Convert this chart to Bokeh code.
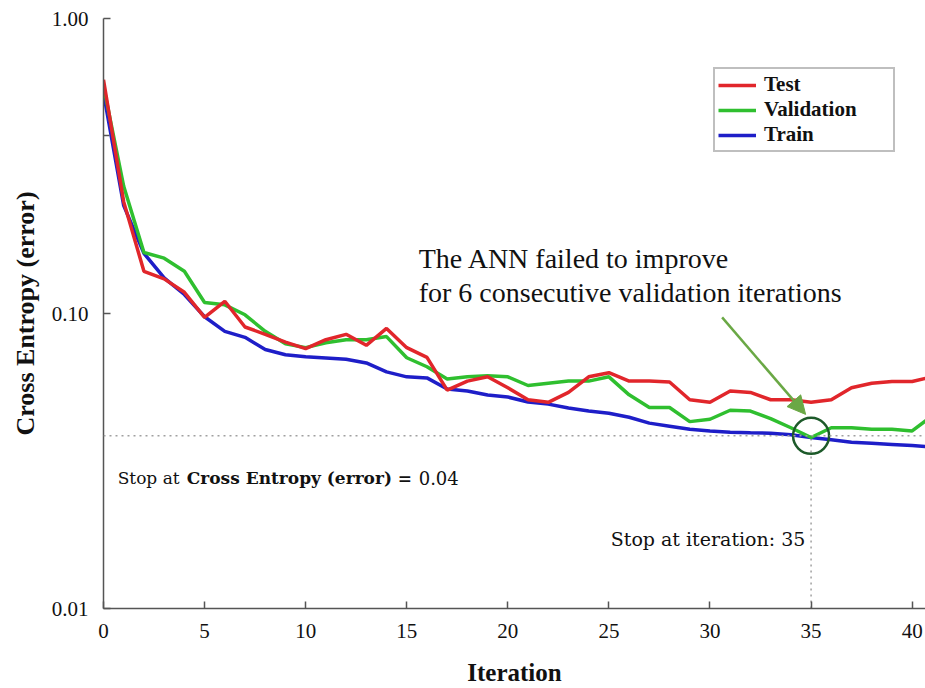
from bokeh.plotting import figure
from bokeh.models import (Range1d, FixedTicker, PrintfTickFormatter, Span, Arrow,
                          NormalHead, Legend, LegendItem, ColumnDataSource)
from bokeh.core.properties import value
from bokeh.embed import file_html
from bokeh.resources import INLINE

# ---------------- data ----------------
iterations = list(range(42))
test_err = [0.62, 0.239, 0.139, 0.131, 0.118, 0.097, 0.110, 0.090, 0.085, 0.080,
            0.076, 0.0815, 0.085, 0.078, 0.089, 0.0766, 0.071, 0.055, 0.059, 0.061,
            0.056, 0.051, 0.050, 0.054, 0.061, 0.063, 0.059, 0.059, 0.0586, 0.051,
            0.050, 0.0546, 0.054, 0.051, 0.051, 0.050, 0.051, 0.056, 0.058, 0.0588,
            0.0588, 0.061]
valid_err = [0.59, 0.27, 0.161, 0.154, 0.139, 0.109, 0.107, 0.099, 0.087, 0.079,
             0.0766, 0.0796, 0.0815, 0.0815, 0.0835, 0.0708, 0.066, 0.060, 0.061, 0.0615,
             0.061, 0.057, 0.058, 0.059, 0.059, 0.061, 0.053, 0.048, 0.048, 0.043,
             0.0438, 0.047, 0.0467, 0.044, 0.041, 0.038, 0.041, 0.041, 0.0405, 0.0405,
             0.040, 0.045]
train_err = [0.56, 0.232, 0.160, 0.132, 0.116, 0.0975, 0.087, 0.083, 0.0755, 0.0725,
             0.0713, 0.0707, 0.070, 0.068, 0.0634, 0.061, 0.0605, 0.0555, 0.0546, 0.0529,
             0.0521, 0.0501, 0.0493, 0.0478, 0.0467, 0.0459, 0.0445, 0.0425, 0.0415, 0.0405,
             0.040, 0.0396, 0.0394, 0.0393, 0.0388, 0.038, 0.0373, 0.0366, 0.0363, 0.036,
             0.0357, 0.0353]
series_names = ["Test", "Validation", "Train"]
y_ticks = [0.01, 0.1, 1.0]
x_ticks = [0, 5, 10, 15, 20, 25, 30, 35, 40]
stop_iter = 35
stop_value = 0.0385

# ---------------- styling ----------------
RED = "#e1262b"
GREEN = "#2fbf2f"
BLUE = "#1e1ec8"
ARROW_GREEN = "#6aa845"
CIRCLE_GREEN = "#1d5a2a"
SERIF = "Liberation Serif"
CAMBRIA = "DejaVu Serif"

src = ColumnDataSource(dict(it=iterations, test=test_err, valid=valid_err, train=train_err))

p = figure(width=925, height=688, y_axis_type="log",
           x_range=Range1d(0, 40.66), y_range=Range1d(0.01, 1.0),
           output_backend="svg", toolbar_location=None,
           min_border_left=103, min_border_right=0, min_border_top=18, min_border_bottom=80)
p.outline_line_color = None
p.xgrid.grid_line_color = None
p.ygrid.grid_line_color = None
p.background_fill_color = "white"
p.border_fill_color = "white"

for ax in (p.xaxis[0], p.yaxis[0]):
    ax.axis_line_color = "#555555"
    ax.axis_line_width = 1.5
    ax.major_tick_line_color = "#555555"
    ax.major_tick_line_width = 1.5
    ax.major_tick_in = 7
    ax.major_tick_out = 0
    ax.major_label_text_font = SERIF
    ax.major_label_text_font_size = "21px"
    ax.major_label_text_color = "#111111"
    ax.major_label_standoff = 15
    ax.axis_label_text_font = SERIF
    ax.axis_label_text_font_style = "bold"
    ax.axis_label_text_color = "#111111"

p.xaxis.ticker = FixedTicker(ticks=x_ticks)
p.xaxis.minor_tick_line_color = None
p.xaxis.axis_label = "Iteration"
p.xaxis.axis_label_text_font_size = "25px"
p.xaxis.axis_label_standoff = 18

p.yaxis.ticker = FixedTicker(ticks=y_ticks, minor_ticks=[0.4])
p.yaxis.formatter = PrintfTickFormatter(format="%.2f")
p.yaxis.minor_tick_in = 6
p.yaxis.minor_tick_out = 0
p.yaxis.minor_tick_line_color = "#555555"
p.yaxis.minor_tick_line_width = 1.5
p.yaxis.axis_label = "Cross Entropy (error)"
p.yaxis.axis_label_text_font_size = "26px"
p.yaxis.axis_label_standoff = 9

# reference lines
p.add_layout(Span(location=stop_value, dimension="width", line_color="#a0a0a0",
                  line_width=1.5, line_dash="2 4"))
p.segment(x0=[stop_iter], y0=[y_ticks[0]], x1=[stop_iter], y1=[stop_value],
          line_color="#a0a0a0", line_width=1.5, line_dash="2 4")

# series (red drawn last, on top)
r_train = p.line("it", "train", source=src, line_color=BLUE, line_width=3.5)
r_valid = p.line("it", "valid", source=src, line_color=GREEN, line_width=3.5)
r_test = p.line("it", "test", source=src, line_color=RED, line_width=3.5)

legend = Legend(items=[LegendItem(label=series_names[0], renderers=[r_test]),
                       LegendItem(label=series_names[1], renderers=[r_valid]),
                       LegendItem(label=series_names[2], renderers=[r_train])],
                location=(610, 456))
legend.label_text_font = SERIF
legend.label_text_font_style = "bold"
legend.label_text_font_size = "21px"
legend.label_text_color = "#111111"
legend.label_height = 20
legend.label_width = 126
legend.glyph_height = 20
legend.glyph_width = 38
legend.label_standoff = 8
legend.spacing = 0
legend.padding = 3
legend.margin = 0
legend.border_line_color = "#808080"
legend.border_line_width = 2
legend.background_fill_alpha = 1.0
p.add_layout(legend)

# circle around the stopping point
p.scatter(x=[stop_iter], y=[stop_value], marker="circle", size=36,
          fill_color=None, line_color=CIRCLE_GREEN, line_width=2.5)

# arrow
p.add_layout(Arrow(x_start=30.6, y_start=0.097, x_end=34.73, y_end=0.0455,
                   line_color=ARROW_GREEN, line_width=2.5,
                   end=NormalHead(size=18, fill_color=ARROW_GREEN, line_color=ARROW_GREEN)))

# annotation texts
p.text(x=[15.59], y=[0.1535], text=["The ANN failed to improve"],
       text_font=value(SERIF), text_font_size="28px", text_color="#111111",
       text_baseline="middle", text_align="left")
p.text(x=[15.59], y=[0.1178], text=["for 6 consecutive validation iterations"],
       text_font=value(SERIF), text_font_size="28px", text_color="#111111",
       text_baseline="middle", text_align="left")

p.text(x=[0.70], y=[0.0276], text=["Stop at"],
       text_font=value(CAMBRIA), text_font_size="17px", text_color="#111111",
       text_baseline="middle", text_align="left")
p.text(x=[4.12], y=[0.0276], text=["Cross Entropy (error) ="],
       text_font=value(CAMBRIA), text_font_style="bold", text_font_size="17px",
       text_color="#111111", text_baseline="middle", text_align="left")
p.text(x=[15.59], y=[0.0276], text=["0.04"],
       text_font=value(CAMBRIA), text_font_size="18px", text_color="#111111",
       text_baseline="middle", text_align="left")

p.text(x=[34.72], y=[0.01726], text=["Stop at iteration: 35"],
       text_font=value(CAMBRIA), text_font_size="19px", text_color="#111111",
       text_baseline="middle", text_align="right")

open("out.html", "w").write(file_html(p, INLINE))
